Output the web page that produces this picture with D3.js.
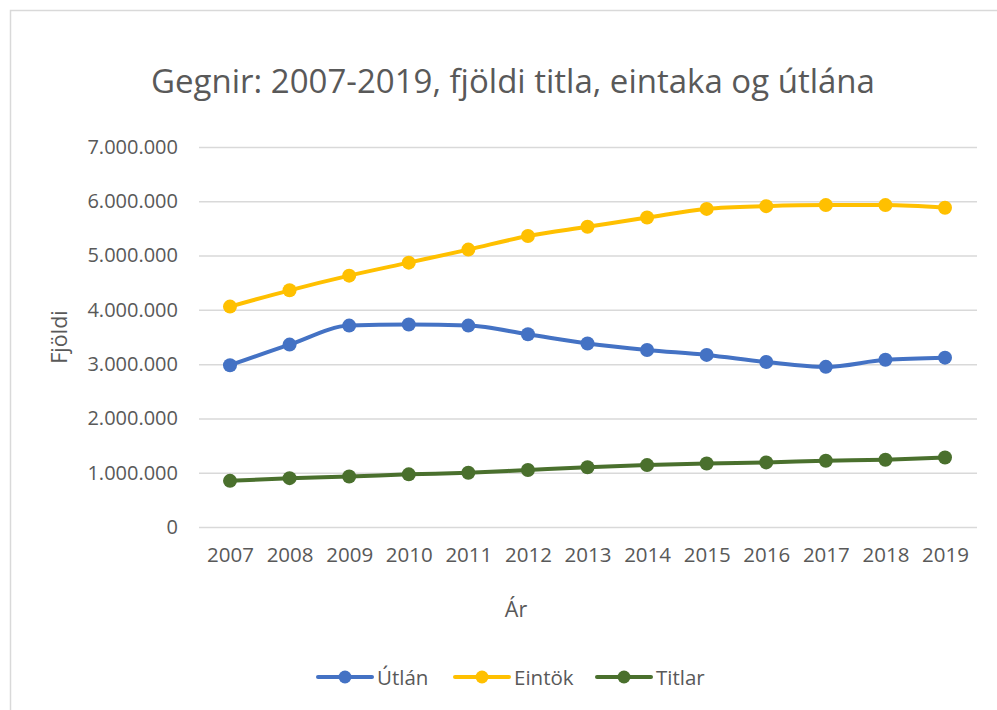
<!DOCTYPE html>
<html><head><meta charset="utf-8">
<script src="https://cdn.jsdelivr.net/npm/d3@7"></script>
<style>body{margin:0;background:#fff}svg{display:block}text{font-family:"Open Sans",sans-serif;fill:#595959}</style>
</head><body><svg id="c" width="997" height="710"></svg>
<script>
const years = ["2007","2008","2009","2010","2011","2012","2013","2014","2015","2016","2017","2018","2019"];
const utlan  = [2980000,3360000,3710000,3730000,3710000,3550000,3380000,3260000,3170000,3040000,2950000,3080000,3120000];
const eintok = [4060000,4360000,4630000,4870000,5110000,5360000,5530000,5700000,5860000,5910000,5930000,5930000,5880000];
const titlar = [850000,900000,930000,970000,1000000,1050000,1100000,1140000,1170000,1190000,1220000,1240000,1280000];
const yTicks = [0,1000000,2000000,3000000,4000000,5000000,6000000,7000000];
const seriesNames = ["Útlán","Eintök","Titlar"];
const colors = ["#4472C4","#FFC000","#4A702D"];
const series = [utlan, eintok, titlar];

const svg = d3.select("#c");
svg.append("rect").attr("x",10.5).attr("y",10.5).attr("width",1200).attr("height",1200)
  .attr("fill","#fff").attr("stroke","#d9d9d9").attr("stroke-width",1.5);

const x = d3.scalePoint().domain(years).range([230,945]);
const y = d3.scaleLinear().domain([0,7000000]).range([527,147]);
const fmt = v => v === 0 ? "0" : d3.format(",")(v).replace(/,/g,".");

svg.append("text").attr("x",513).attr("y",93).attr("text-anchor","middle")
  .style("font-size","33px").text("Gegnir: 2007-2019, fjöldi titla, eintaka og útlána");

const gy = svg.append("g").attr("transform","translate(199,0)")
  .call(d3.axisLeft(y).tickValues(yTicks).tickFormat(fmt).tickSize(-778).tickPadding(21));
gy.select(".domain").remove();
gy.selectAll(".tick line").attr("stroke","#d9d9d9").attr("stroke-width",1.5);
gy.selectAll(".tick text").style("font-size","20px").attr("fill","#595959").style("font-family","Open Sans");

const gx = svg.append("g").attr("transform","translate(0,527)")
  .call(d3.axisBottom(x).tickSize(0).tickPadding(20));
gx.select(".domain").remove();
gx.selectAll(".tick text").style("font-size","20.5px").attr("fill","#595959").style("font-family","Open Sans");

svg.append("text").attr("x",516).attr("y",617).attr("text-anchor","middle").style("font-size","21.5px").text("Ár");
svg.append("text").attr("transform","translate(67,337) rotate(-90)").attr("text-anchor","middle").style("font-size","21.5px").text("Fjöldi");

const line = d3.line().x((d,i)=>x(years[i])).y(d=>y(d)).curve(d3.curveMonotoneX);
series.forEach((s,k)=>{
  svg.append("path").datum(s).attr("d",line).attr("fill","none").attr("stroke",colors[k])
    .attr("stroke-width",4).attr("stroke-linejoin","round").attr("stroke-linecap","round");
  svg.append("g").selectAll("circle").data(s).join("circle")
    .attr("cx",(d,i)=>x(years[i])).attr("cy",d=>y(d)).attr("r",7).attr("fill",colors[k]);
});

const legX = [318,455,597];
seriesNames.forEach((n,k)=>{
  const g = svg.append("g").attr("transform",`translate(${legX[k]},677)`);
  g.append("line").attr("x1",0).attr("x2",54).attr("stroke",colors[k]).attr("stroke-width",4).attr("stroke-linecap","round");
  g.append("circle").attr("cx",27).attr("r",6.5).attr("fill",colors[k]);
  g.append("text").attr("x",59).attr("y",7.5).style("font-size","20.5px").text(n);
});
</script></body></html>
